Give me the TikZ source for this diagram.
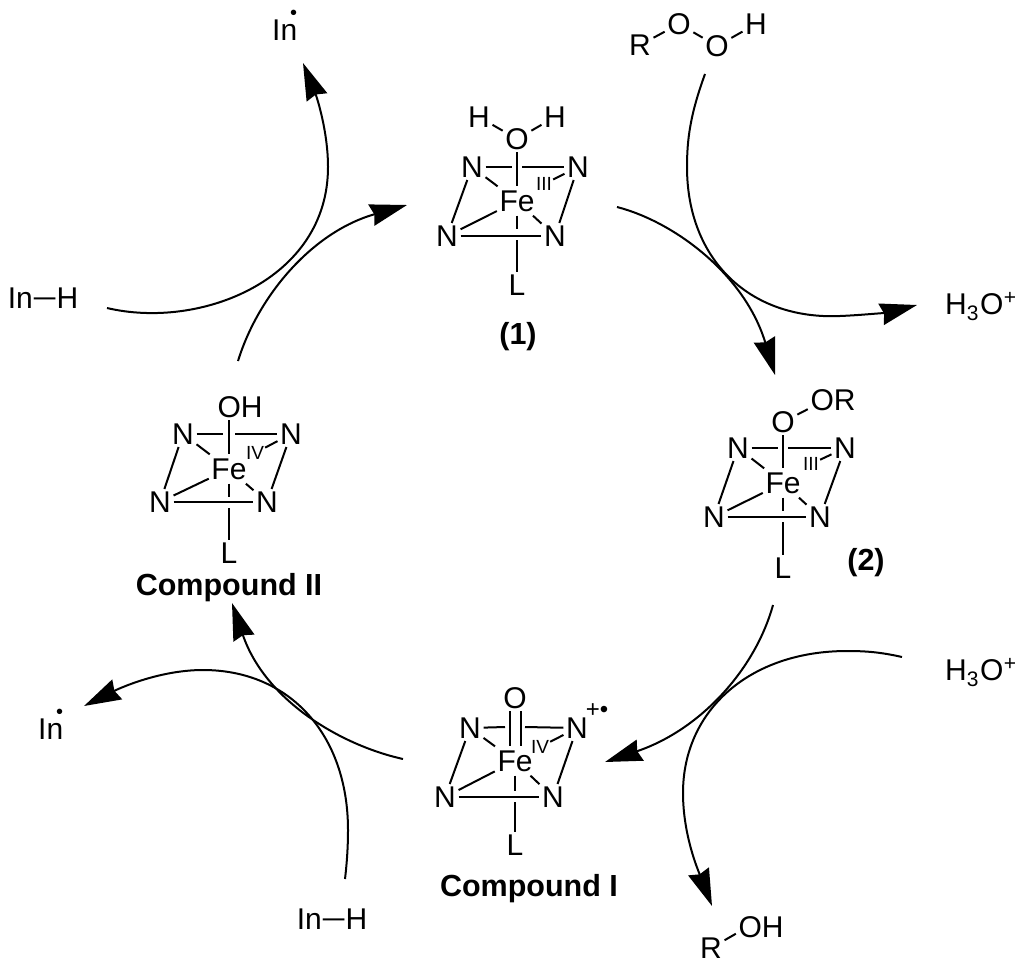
\documentclass[tikz,border=0pt]{standalone}
\usepackage{fontspec}
\setmainfont{Liberation Sans}
\usetikzlibrary{arrows.meta}
\tikzset{
  atom/.style={inner sep=2.5pt,font=\fontsize{30}{32}\selectfont},
  oxnum/.style={inner sep=1pt,font=\fontsize{19}{21}\selectfont},
  radical/.style={inner sep=0pt,font=\fontsize{24}{26}\selectfont},
  cmpd/.style={inner sep=0pt,font=\fontsize{30.5}{32}\selectfont\bfseries},
  bond/.style={line width=2pt},
  rxn/.style={line width=2pt,-{Stealth[length=37pt,width=22pt,inset=3pt]}}
}
\newcommand{\inbond}{\kern1pt\raisebox{2pt}{\scalebox{1.3}[1]{–}}\kern1pt}
\newcommand{\indot}{\kern-7pt\raisebox{21pt}{\fontsize{20}{22}\selectfont •}}
\newcommand{\hydronium}{H\textsubscript{3}\kern1pt O\kern0.5pt\textsuperscript{+}}
\begin{document}
\begin{tikzpicture}[x=1pt,y=-1pt]
  \useasboundingbox (0,0) rectangle (1024,964);
  % (1)
  \node[atom] (aHl) at (479,117) {H};
  \node[atom] (aHr) at (555,117) {H};
  \node[atom] (aO) at (517,139) {O};
  \node[atom] (aNtl) at (472,167) {N};
  \node[atom] (aNtr) at (578,167) {N};
  \node[atom,inner ysep=4pt] (aFe) at (517,201) {Fe};
  \node[atom] (aNbl) at (447,236) {N};
  \node[atom] (aNbr) at (555,236) {N};
  \node[atom] (aL) at (517,285) {L};
  \node[oxnum] (aOx) at (544,184) {III};
  \node[cmpd] (aName) at (518,337) {(1)};
  \coordinate (agapl) at (512,167);
  \coordinate (agapr) at (522,167);
  \coordinate (agapu) at (517,229);
  \coordinate (agapd) at (517,240);
  \draw[bond] (aHl) -- (aO);  % H -- O
  \draw[bond] (aO) -- (aHr);  % O -- H
  \draw[bond] (aO) -- (aFe);  % O -- Fe
  \draw[bond] (aNtl) -- (agapl);  % N -- N, top
  \draw[bond] (agapr) -- (aNtr);
  \draw[bond] (aNbl) -- (aNbr);  % N -- N, bottom
  \draw[bond] (aNtl) -- (aNbl);
  \draw[bond] (aNtr) -- (aNbr);
  \draw[bond] (aNtl) -- (aFe);
  \draw[bond] (aNbl) -- (aFe);
  \draw[bond] (aNbr) -- (aFe);
  \draw[bond] (aNtr) -- (aOx);
  \draw[bond] (aFe) -- (agapu);  % Fe -- L
  \draw[bond] (agapd) -- (aL);
  % (2)
  \node[atom] (bO) at (783,422) {O};
  \node[atom] (bOR) at (833,400) {OR};
  \node[atom] (bNtl) at (738,448) {N};
  \node[atom] (bNtr) at (845,448) {N};
  \node[atom,inner ysep=4pt] (bFe) at (783,483) {Fe};
  \node[atom] (bNbl) at (714,517) {N};
  \node[atom] (bNbr) at (820,517) {N};
  \node[atom] (bL) at (783,568) {L};
  \node[oxnum] (bOx) at (811,464) {III};
  \node[cmpd] (bName) at (866,563) {(2)};
  \coordinate (bgapl) at (778,448);
  \coordinate (bgapr) at (788,448);
  \coordinate (bgapu) at (783,511);
  \coordinate (bgapd) at (783,522);
  \draw[bond] (bO) -- (bOR.200);  % O -- OR
  \draw[bond] (bO) -- (bFe);  % O -- Fe
  \draw[bond] (bNtl) -- (bgapl);  % N -- N, top
  \draw[bond] (bgapr) -- (bNtr);
  \draw[bond] (bNbl) -- (bNbr);  % N -- N, bottom
  \draw[bond] (bNtl) -- (bNbl);
  \draw[bond] (bNtr) -- (bNbr);
  \draw[bond] (bNtl) -- (bFe);
  \draw[bond] (bNbl) -- (bFe);
  \draw[bond] (bNbr) -- (bFe);
  \draw[bond] (bNtr) -- (bOx);
  \draw[bond] (bFe) -- (bgapu);  % Fe -- L
  \draw[bond] (bgapd) -- (bL);
  % Compound I
  \node[atom] (cO) at (515,698) {O};
  \node[atom] (cNtl) at (470,728) {N};
  \node[atom] (cNtr) at (577,728) {N};
  \node[radical] (cRad) at (597,711) {+•};
  \node[atom,inner ysep=4pt] (cFe) at (515,761) {Fe};
  \node[atom] (cNbl) at (445,797) {N};
  \node[atom] (cNbr) at (553,797) {N};
  \node[atom] (cL) at (515,845) {L};
  \node[oxnum] (cOx) at (540,747) {IV};
  \node[cmpd] (cName) at (529,889) {Compound I};
  \coordinate (cgapl) at (505,727);
  \coordinate (cgapr) at (525,727);
  \coordinate (cgapu) at (515,791);
  \coordinate (cgapd) at (515,802);
  \draw[bond,double,double distance=9pt] (cO) -- (cFe);  % O = Fe
  \draw[bond] (cNtl) -- (cgapl);  % N -- N, top
  \draw[bond] (cgapr) -- (cNtr);
  \draw[bond] (cNbl) -- (cNbr);  % N -- N, bottom
  \draw[bond] (cNtl) -- (cNbl);
  \draw[bond] (cNtr) -- (cNbr);
  \draw[bond] (cNtl) -- (cFe);
  \draw[bond] (cNbl) -- (cFe);
  \draw[bond] (cNbr) -- (cFe);
  \draw[bond] (cNtr) -- (cOx);
  \draw[bond] (cFe) -- (cgapu);  % Fe -- L
  \draw[bond] (cgapd) -- (cL);
  % Compound II
  \node[atom] (dOH) at (240,407) {OH};
  \node[atom] (dNtl) at (183,434) {N};
  \node[atom] (dNtr) at (291,434) {N};
  \node[atom,inner ysep=4pt] (dFe) at (229,469) {Fe};
  \node[atom] (dNbl) at (160,502) {N};
  \node[atom] (dNbr) at (267,502) {N};
  \node[atom] (dL) at (229,553) {L};
  \node[oxnum] (dOx) at (255,453) {IV};
  \node[cmpd] (dName) at (229,588) {Compound II};
  \coordinate (dgapl) at (223,434);
  \coordinate (dgapr) at (235,434);
  \coordinate (dgapu) at (229,497);
  \coordinate (dgapd) at (229,508);
  \draw[bond] (dOH.south -| dFe) -- (dFe);  % OH -- Fe
  \draw[bond] (dNtl) -- (dgapl);  % N -- N, top
  \draw[bond] (dgapr) -- (dNtr);
  \draw[bond] (dNbl) -- (dNbr);  % N -- N, bottom
  \draw[bond] (dNtl) -- (dNbl);
  \draw[bond] (dNtr) -- (dNbr);
  \draw[bond] (dNtl) -- (dFe);
  \draw[bond] (dNbl) -- (dFe);
  \draw[bond] (dNbr) -- (dFe);
  \draw[bond] (dNtr) -- (dOx);
  \draw[bond] (dFe) -- (dgapu);  % Fe -- L
  \draw[bond] (dgapd) -- (dL);
  % substrates and products
  \node[atom] (hpR) at (640,45) {R};
  \node[atom] (hpOa) at (679,24) {O};
  \node[atom] (hpOb) at (717,46) {O};
  \node[atom] (hpH) at (756,24) {H};
  \draw[bond] (hpR) -- (hpOa);  % R -- O
  \draw[bond] (hpOa) -- (hpOb);  % O -- O
  \draw[bond] (hpOb) -- (hpH);  % O -- H
  \node[atom] (alR) at (711,948) {R};
  \node[atom] (alOH) at (761,927) {OH};
  \draw[bond] (alR) -- (alOH.195);  % R -- OH
  \node[atom,anchor=base west,inner sep=0pt] (wTop) at (945,314) {\hydronium};
  \node[atom,anchor=base west,inner sep=0pt] (wBot) at (945,680) {\hydronium};
  \node[atom] (inhTop) at (43,298) {In\inbond H};
  \node[atom] (inhBot) at (332,919) {In\inbond H};
  \node[atom,anchor=base west,inner sep=0pt] (inTop) at (272,40) {In\indot};
  \node[atom,anchor=base west,inner sep=0pt] (inBot) at (38,739) {In\indot};
  % end points of the arrows
  \coordinate (aOut) at (617,207);
  \coordinate (bIn) at (775,375);
  \coordinate (bOut) at (773,605);
  \coordinate (cIn) at (605,762);
  \coordinate (cOut) at (403,759);
  \coordinate (dIn) at (232,603);
  \coordinate (dOut) at (238,361);
  \coordinate (aIn) at (407,205);
  \coordinate (hpEnd) at (705,74);
  \coordinate (wTopEnd) at (917,305);
  \coordinate (wBotEnd) at (902,657);
  \coordinate (alEnd) at (712,906);
  \coordinate (inhTopEnd) at (107,308);
  \coordinate (inTopEnd) at (303,63);
  \coordinate (inhBotEnd) at (345,879);
  \coordinate (inBotEnd) at (84,706);
  % the cycle
  \draw[rxn] (aOut) .. controls (675,222) and (745,275) .. (bIn);  % (1) -- (2)
  \draw[rxn] (bOut) .. controls (755,670) and (700,730) .. (cIn);  % (2) -- I
  \draw[rxn] (cOut) .. controls (340,745) and (265,700) .. (dIn);  % I -- II
  \draw[rxn] (dOut) .. controls (258,296) and (312,232) .. (aIn);  % II -- (1)
  % side arrows
  \draw[rxn] (hpEnd) .. controls (690,115) and (687,140) .. (687,167)
    .. controls (687,260) and (750,320) .. (840,316)
    .. controls (865,315) and (890,312) .. (wTopEnd);  % ROOH -- H3O+
  \draw[rxn] (wBotEnd) .. controls (880,652) and (865,651) .. (847,651)
    .. controls (750,651) and (683,710) .. (683,793)
    .. controls (683,835) and (698,870) .. (alEnd);  % H3O+ -- ROH
  \draw[rxn] (inhBotEnd) .. controls (347,862) and (348,846) .. (348,830)
    .. controls (348,735) and (290,670) .. (203,670)
    .. controls (160,670) and (120,688) .. (inBotEnd);  % InH -- In
  \draw[rxn] (inhTopEnd) .. controls (200,330) and (328,280) .. (328,167)
    .. controls (328,130) and (316,95) .. (inTopEnd);  % InH -- In
\end{tikzpicture}
\end{document}
